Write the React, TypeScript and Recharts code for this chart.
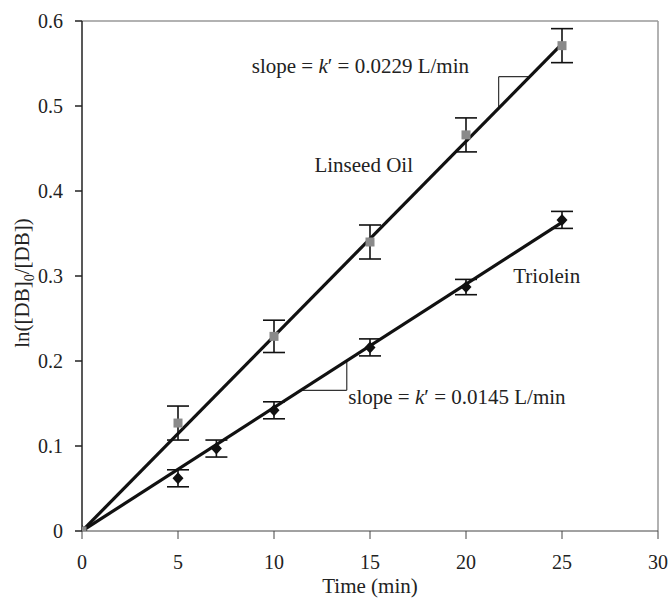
import { ComposedChart, Scatter, Line, XAxis, YAxis, ErrorBar, ReferenceLine, ReferenceDot } from "recharts";

const SERIF = "'Liberation Serif', 'Times New Roman', serif";

// measured points (time in min)
const linseedTimes = [0, 5, 10, 15, 20, 25];
const linseedValues = [0, 0.127, 0.229, 0.34, 0.466, 0.571];
const linseedErrors = [null, 0.02, 0.019, 0.02, 0.02, 0.02];

const trioleinTimes = [0, 5, 7, 10, 15, 20, 25];
const trioleinValues = [0, 0.062, 0.097, 0.142, 0.216, 0.287, 0.366];
const trioleinErrors = [null, 0.01, 0.01, 0.01, 0.01, 0.009, 0.01];

// fitted lines, read at both ends
const fitTimes = [0, 25];
const linseedFit = [0, 0.573];
const trioleinFit = [0, 0.363];

const xTicks = [0, 5, 10, 15, 20, 25, 30];
const yTicks = [0, 0.1, 0.2, 0.3, 0.4, 0.5, 0.6];

const linseedPoints = linseedTimes.map((t, i) => ({ x: t, y: linseedValues[i], err: linseedErrors[i] }));
const trioleinPoints = trioleinTimes.map((t, i) => ({ x: t, y: trioleinValues[i], err: trioleinErrors[i] }));
const linseedLine = fitTimes.map((t, i) => ({ x: t, y: linseedFit[i] }));
const trioleinLine = fitTimes.map((t, i) => ({ x: t, y: trioleinFit[i] }));

const GraySquare = (p: any) => (
  <rect x={p.cx - 4.5} y={p.cy - 4.5} width={9} height={9} fill="#8a8a8a" />
);

const BlackDiamond = (p: any) => (
  <polygon
    points={`${p.cx},${p.cy - 6} ${p.cx + 5.5},${p.cy} ${p.cx},${p.cy + 6} ${p.cx - 5.5},${p.cy}`}
    fill="#111"
  />
);

const slopeLabel = (value: string) => (props: any) => {
  const { x, y } = props.viewBox;
  return (
    <text x={x} y={y} fontSize={21} style={{ fontFamily: SERIF }} fill="#222">
      slope = <tspan fontStyle="italic">k</tspan>′ = {value} L/min
    </text>
  );
};

const plainLabel = (value: string, anchor: "start" | "end") => (props: any) => {
  const { x, y } = props.viewBox;
  return (
    <text x={x} y={y} fontSize={21} style={{ fontFamily: SERIF }} fill="#222" textAnchor={anchor}>
      {value}
    </text>
  );
};

const YTitle = (props: any) => {
  const vb = props.viewBox || { x: 0, y: 21, height: 510 };
  const cx = vb.x + 29;
  const cy = vb.y + vb.height / 2 + 7;
  return (
    <text
      x={cx}
      y={cy}
      transform={`rotate(-90, ${cx}, ${cy})`}
      textAnchor="middle"
      fontSize={21}
      style={{ fontFamily: SERIF }}
      fill="#222"
    >
      ln([DB]<tspan fontSize={14} dy={5}>0</tspan>
      <tspan dy={-5}>/[DB])</tspan>
    </text>
  );
};

const tickStyle = { fill: "#222", fontSize: 20, fontFamily: SERIF, style: { fontFamily: SERIF } };

export default function App() {
  return (
    <div style={{ position: "absolute", left: 0, top: 0, background: "#fff", fontFamily: SERIF }}>
      <ComposedChart
        width={668}
        height={598}
        margin={{ top: 21, right: 10, left: 0, bottom: 0 }}
        style={{ fontFamily: SERIF }}
      >
        <XAxis
          type="number"
          dataKey="x"
          domain={[0, 30]}
          ticks={xTicks}
          allowDataOverflow
          height={67}
          tickSize={8}
          tickMargin={16}
          stroke="#444"
          tick={tickStyle}
          label={{ value: "Time (min)", position: "insideBottom", offset: 5, fontSize: 21, fill: "#222", style: { fontFamily: SERIF } }}
        />
        <YAxis
          type="number"
          dataKey="y"
          domain={[0, 0.6]}
          ticks={yTicks}
          allowDataOverflow
          width={82}
          tickSize={7}
          tickMargin={12}
          stroke="#222"
          strokeWidth={1.5}
          tick={tickStyle}
          label={<YTitle />}
        />
        <ReferenceLine y={0.6} stroke="#999" strokeWidth={1.5} />
        <ReferenceLine x={30} stroke="#999" strokeWidth={1.5} />

        {/* slope triangles */}
        <ReferenceLine segment={[{ x: 21.7, y: 0.497 }, { x: 21.7, y: 0.5345 }]} stroke="#333" strokeWidth={1.2} />
        <ReferenceLine segment={[{ x: 21.7, y: 0.5345 }, { x: 23.34, y: 0.5345 }]} stroke="#333" strokeWidth={1.2} />
        <ReferenceLine segment={[{ x: 13.79, y: 0.2 }, { x: 13.79, y: 0.1655 }]} stroke="#333" strokeWidth={1.2} />
        <ReferenceLine segment={[{ x: 11.41, y: 0.1655 }, { x: 13.79, y: 0.1655 }]} stroke="#333" strokeWidth={1.2} />

        <Scatter data={trioleinPoints} shape={<BlackDiamond />} isAnimationActive={false}>
          <ErrorBar dataKey="err" direction="y" width={11} stroke="#111" strokeWidth={1.6} />
        </Scatter>
        <Line data={linseedLine} dataKey="y" stroke="#111" strokeWidth={3.2} dot={false} isAnimationActive={false} />
        <Line data={trioleinLine} dataKey="y" stroke="#111" strokeWidth={3.2} dot={false} isAnimationActive={false} />
        <Scatter data={linseedPoints} shape={<GraySquare />} isAnimationActive={false}>
          <ErrorBar dataKey="err" direction="y" width={11} stroke="#111" strokeWidth={1.6} />
        </Scatter>

        <ReferenceDot x={8.84} y={0.5385} r={0} fill="none" stroke="none" label={{ content: slopeLabel("0.0229") }} />
        <ReferenceDot x={13.87} y={0.149} r={0} fill="none" stroke="none" label={{ content: slopeLabel("0.0145") }} />
        <ReferenceDot x={17.24} y={0.4226} r={0} fill="none" stroke="none" label={{ content: plainLabel("Linseed Oil", "end") }} />
        <ReferenceDot x={22.46} y={0.292} r={0} fill="none" stroke="none" label={{ content: plainLabel("Triolein", "start") }} />
      </ComposedChart>
    </div>
  );
}
